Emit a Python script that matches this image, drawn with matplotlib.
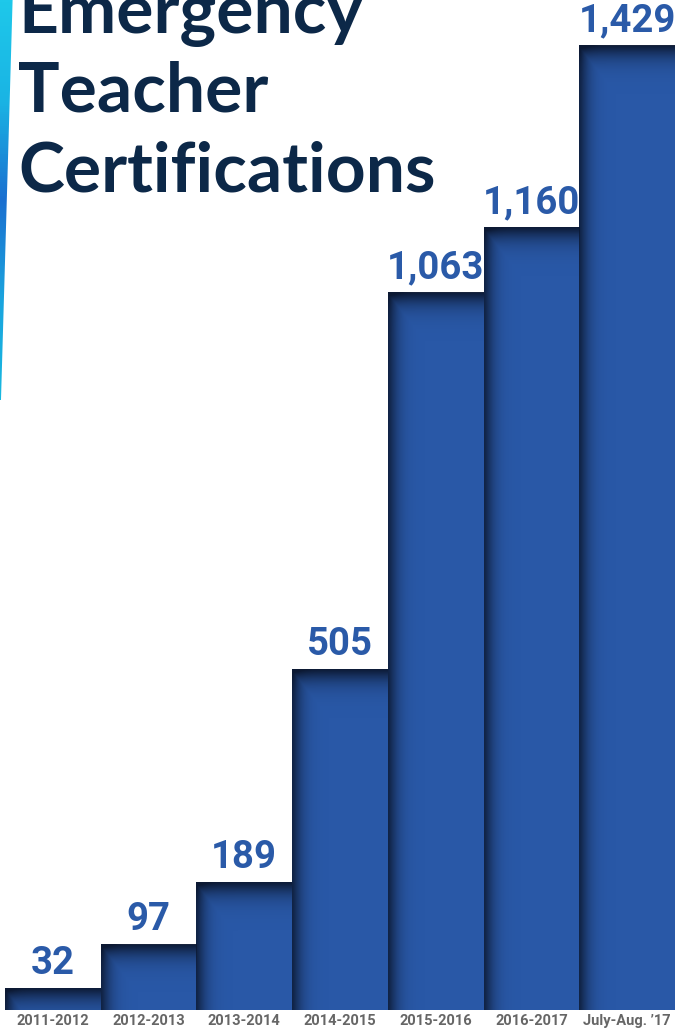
import numpy as np
import matplotlib
matplotlib.use("Agg")
import matplotlib.pyplot as plt
from matplotlib.patches import Polygon

categories = ["2011-2012", "2012-2013", "2013-2014", "2014-2015",
              "2015-2016", "2016-2017", "July-Aug. \u201917"]
values = [32, 97, 189, 505, 1063, 1160, 1429]
value_labels = ["32", "97", "189", "505", "1,063", "1,160", "1,429"]
title_lines = ["Emergency", "Teacher", "Certifications"]

BAR = "#2958a7"
SHADOW = (0.05, 0.10, 0.20)
TITLE_C = "#0c2848"
LABEL_C = "#2a5aa8"
TICK_C = "#666666"

W, H = 675, 1030
fig = plt.figure(figsize=(W / 100, H / 100), dpi=100)
fig.patch.set_facecolor("white")

# decorative left strip (gradient)
strip = fig.add_axes([0, 1 - 400 / H, 14 / W, 400 / H])
grad = np.linspace(0, 1, 200)[:, None]
cmap = matplotlib.colors.LinearSegmentedColormap.from_list(
    "s", ["#1ec8ea", "#1ab4e4", "#1b6fd0", "#1aa4de", "#18b8e0"])
im = strip.imshow(grad, extent=(0, 1, 0, 1), aspect="auto", cmap=cmap, origin="upper")
clip = Polygon([(0, 1), (0.9, 1), (0.07, 0), (0, 0)], closed=True,
               transform=strip.transAxes)
im.set_clip_path(clip)
strip.axis("off")

ax = fig.add_axes([5 / W, 20 / H, 670 / W, 1010 / H])
ymax = 1497
ax.axis("off")

x = np.arange(len(values))
ax.bar(x, values, width=1.0, color=BAR, zorder=1)

# inner shadows (top and left edges)
px_per_y = 1010 / ymax
px_per_x = 670 / len(values)
for xi, v in zip(x, values):
    x0, x1 = xi - 0.5, xi + 0.5
    nx, ny = 120, max(40, int(v * px_per_y))
    xs = np.linspace(0, px_per_x, nx)            # pixels from left edge
    ys = np.linspace(0, v * px_per_y, ny)         # pixels from top edge
    XX, YY = np.meshgrid(xs, ys)
    a_top = 0.95 * np.exp(-(YY / 13.0) ** 1.3)
    a_left = 0.85 * np.exp(-(XX / 10.0) ** 1.3)
    alpha = np.clip(np.maximum(a_top, a_left) + 0.3 * a_top * a_left, 0, 1)
    img = np.zeros((ny, nx, 4))
    img[..., 0], img[..., 1], img[..., 2] = SHADOW
    img[..., 3] = alpha
    ax.imshow(img, extent=(x0, x1, 0, v), origin="upper", aspect="auto",
              interpolation="bilinear", zorder=2)

for xi, v, lab in zip(x, values, value_labels):
    ax.text(xi, v + 9, lab, ha="center", va="bottom", color=LABEL_C,
            fontsize=27.5, fontweight="bold", family=["Roboto", "DejaVu Sans"],
            zorder=3)

for xi, c in zip(x, categories):
    fig.text((5 + (xi + 0.5) * px_per_x) / W, 1 - 1021 / H, c, ha="center",
             va="center", color=TICK_C, fontsize=10.5, fontweight="bold",
             family=["Liberation Sans Narrow", "Roboto", "DejaVu Sans"])

ax.set_xlim(-0.5, len(values) - 0.5)
ax.set_ylim(0, ymax)

# title
baselines = [33, 112, 192]
for line, b in zip(title_lines, baselines):
    fig.text(18 / W, 1 - b / H, line, ha="left", va="baseline", color=TITLE_C,
             fontsize=50, fontweight="bold", family=["Lato", "DejaVu Sans"])

fig.savefig("out.png", dpi=100)
